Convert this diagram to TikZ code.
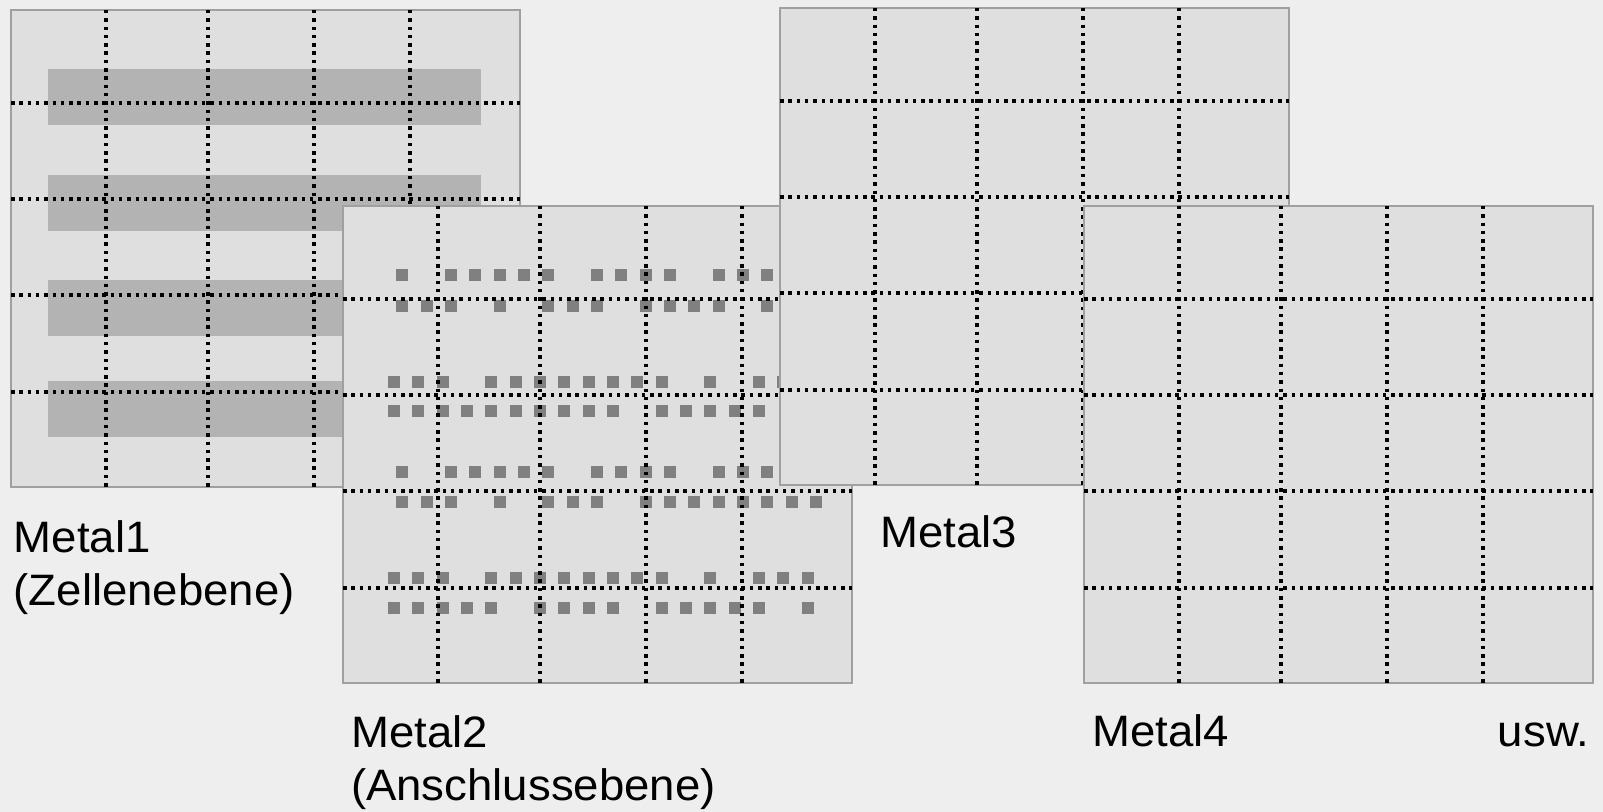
\documentclass[tikz,border=0pt]{standalone}
\usepackage{fontspec}
\setmainfont{Liberation Sans}[FakeStretch=1.035]
\usepackage{tikz}
\usetikzlibrary{calc, positioning}
\definecolor{bgGrey}{HTML}{EEEEEE}
\definecolor{layerFill}{HTML}{DFDFDF}
\definecolor{layerEdge}{HTML}{A0A0A0}
\definecolor{barGrey}{HTML}{B3B3B3}
\definecolor{viaGrey}{HTML}{808080}
\tikzset{
    layer/.style={draw=layerEdge, fill=layerFill, line width=1pt, inner sep=0pt, outer sep=0pt, minimum width=254.5pt, minimum height=238.5pt, anchor=north west},% one metal level, 509 x 477 px
    gridline/.style={line width=1.75pt, dash pattern=on 1.75pt off 2.4pt},
    layergrid/.pic={
        \foreach \gx in {95,197,303,399} \draw[gridline] (\gx,0) -- (\gx,477);
        \foreach \gy in {93,189,285,382} \draw[gridline] (0,\gy) -- (509,\gy);
    },
}

\begin{document}
\begin{tikzpicture}
            [x=0.5pt, y=-0.5pt,
            every node/.style={inner sep=0pt, font=\fontsize{22}{26.5}\selectfont},
            via/.style={fill=viaGrey}]
            \path[use as bounding box, fill=bgGrey] (0,0) rectangle (1603,812);
            % Metal1 with its cell rows
            \node(m1) [layer] at (11,10) {};
            \begin{scope}[shift={(m1.north west)}]
                \foreach \ya/\yb in {59/115, 165/221, 270/326, 371/427}
                    \fill[barGrey] (37,\ya) rectangle (470,\yb);
            \end{scope}
            \pic at (m1.north west) {layergrid};
            % Metal2 with the pins
            \node(m2) [layer] at (343,206) {};
            \begin{scope}[shift={(m2.north west)}]
                \foreach \vy/\vx/\idx in {69.3/59.3/{0,2,3,4,5,6,8,9,10,11,13,14,15},
                                          100/59.3/{0,1,2,4,6,7,8,10,11,12,13,15},
                                          175.7/51/{0,1,2,4,5,6,7,8,9,10,11,13,15,16},
                                          205/51/{0,1,2,3,4,5,6,7,8,9,11,12,13,14,15},
                                          266.3/59.3/{0,2,3,4,5,6,8,9,10,11,13,14,15},
                                          296.3/59.3/{0,1,2,4,6,7,8,10,11,12,13,14,15,16,17},
                                          372/51/{0,1,2,4,5,6,7,8,9,10,11,13,15,16,17},
                                          402/51/{0,1,2,3,4,6,7,8,9,11,12,13,14,15,17}}
                    \foreach \k in \idx
                        \fill[via] ({\vx+24.33*\k-6},{\vy-6}) rectangle +(12,12);
            \end{scope}
            \pic at (m2.north west) {layergrid};
            % Metal3 and Metal4
            \node(m3) [layer] at (780,8) {};
            \pic at (m3.north west) {layergrid};
            \node(m4) [layer] at (1084,206) {};
            \pic at (m4.north west) {layergrid};
            % labels (base = baseline of the last line)
            \node(lab1) [anchor=base west, align=left] at (13.4,606) {Metal1\\(Zellenebene)};
            \node(lab2) [anchor=base west, align=left] at (350.7,800) {Metal2\\(Anschlussebene)};
            \node(lab3) [anchor=base west] at (880,547.5) {Metal3};
            \node(lab4) [anchor=base west] at (1091.7,747) {Metal4};
            \node(etc) [anchor=base west] at (1497.5,747) {usw.};
        \end{tikzpicture}
\end{document}
